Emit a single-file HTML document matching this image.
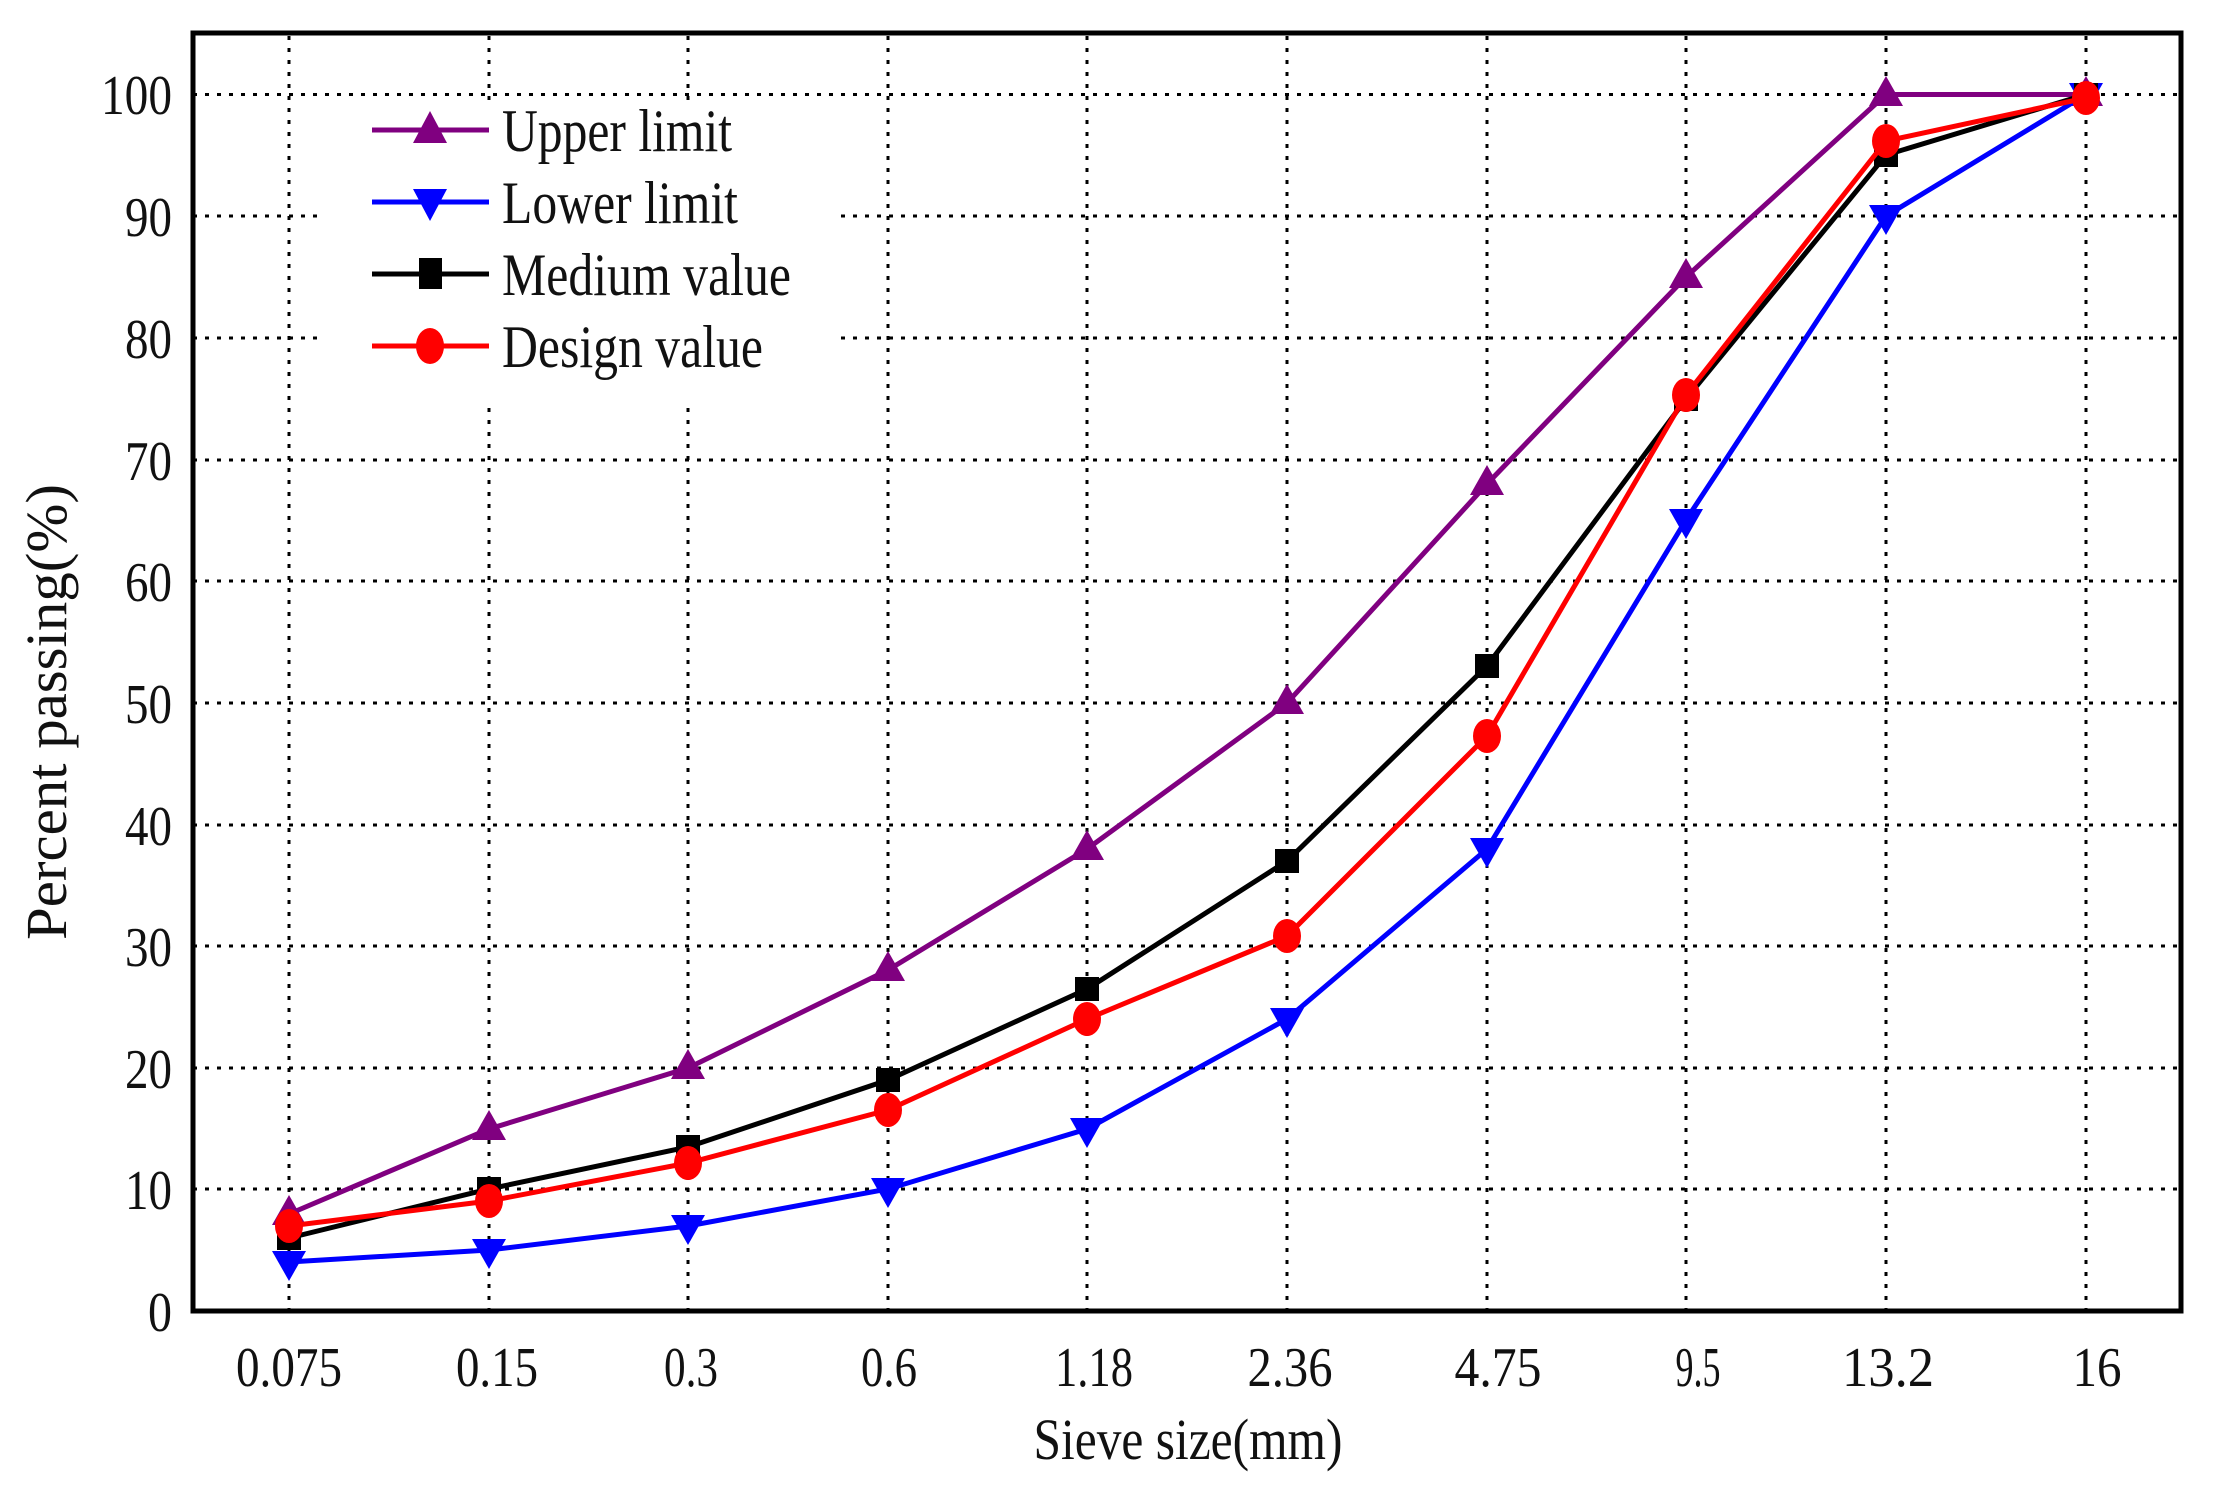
<!DOCTYPE html>
<html><head><meta charset="utf-8"><style>
body{margin:0;background:#fff}
svg text{font-family:"Liberation Serif",serif;fill:#111}
</style></head><body>
<svg width="2213" height="1488" viewBox="0 0 2213 1488" xmlns="http://www.w3.org/2000/svg">
<rect width="2213" height="1488" fill="#fff"/>
<g id="grid" stroke="#000" stroke-width="3" stroke-dasharray="4,8">
<line x1="289" y1="36" x2="289" y2="1311"/><line x1="489" y1="36" x2="489" y2="1311"/><line x1="688" y1="36" x2="688" y2="1311"/><line x1="888" y1="36" x2="888" y2="1311"/><line x1="1087" y1="36" x2="1087" y2="1311"/><line x1="1287" y1="36" x2="1287" y2="1311"/><line x1="1487" y1="36" x2="1487" y2="1311"/><line x1="1686" y1="36" x2="1686" y2="1311"/><line x1="1886" y1="36" x2="1886" y2="1311"/><line x1="2086" y1="36" x2="2086" y2="1311"/>
<line x1="193" y1="94.5" x2="2180" y2="94.5"/><line x1="193" y1="216" x2="2180" y2="216"/><line x1="193" y1="338" x2="2180" y2="338"/><line x1="193" y1="460" x2="2180" y2="460"/><line x1="193" y1="581" x2="2180" y2="581"/><line x1="193" y1="703" x2="2180" y2="703"/><line x1="193" y1="825" x2="2180" y2="825"/><line x1="193" y1="946" x2="2180" y2="946"/><line x1="193" y1="1068" x2="2180" y2="1068"/><line x1="193" y1="1189" x2="2180" y2="1189"/>
</g>
<rect x="322" y="100" width="516" height="300" fill="#fff"/>
<rect x="193" y="33" width="1988" height="1278" fill="none" stroke="#000" stroke-width="5"/>
<g font-size="56" text-anchor="end" lengthAdjust="spacingAndGlyphs">
<text x="172" y="114" textLength="71" lengthAdjust="spacingAndGlyphs">100</text><text x="172" y="236" textLength="47" lengthAdjust="spacingAndGlyphs">90</text><text x="172" y="358" textLength="47" lengthAdjust="spacingAndGlyphs">80</text><text x="172" y="480" textLength="47" lengthAdjust="spacingAndGlyphs">70</text><text x="172" y="601" textLength="47" lengthAdjust="spacingAndGlyphs">60</text><text x="172" y="723" textLength="47" lengthAdjust="spacingAndGlyphs">50</text><text x="172" y="845" textLength="47" lengthAdjust="spacingAndGlyphs">40</text><text x="172" y="966" textLength="47" lengthAdjust="spacingAndGlyphs">30</text><text x="172" y="1088" textLength="47" lengthAdjust="spacingAndGlyphs">20</text><text x="172" y="1209" textLength="47" lengthAdjust="spacingAndGlyphs">10</text><text x="172" y="1331" textLength="24" lengthAdjust="spacingAndGlyphs">0</text>
</g>
<g font-size="56" text-anchor="middle">
<text x="289" y="1386" textLength="106" lengthAdjust="spacingAndGlyphs">0.075</text><text x="497" y="1386" textLength="82" lengthAdjust="spacingAndGlyphs">0.15</text><text x="691" y="1386" textLength="54" lengthAdjust="spacingAndGlyphs">0.3</text><text x="889" y="1386" textLength="56" lengthAdjust="spacingAndGlyphs">0.6</text><text x="1094" y="1386" textLength="78" lengthAdjust="spacingAndGlyphs">1.18</text><text x="1290" y="1386" textLength="85" lengthAdjust="spacingAndGlyphs">2.36</text><text x="1498" y="1386" textLength="87" lengthAdjust="spacingAndGlyphs">4.75</text><text x="1698" y="1386" textLength="45" lengthAdjust="spacingAndGlyphs">9.5</text><text x="1888" y="1386" textLength="92" lengthAdjust="spacingAndGlyphs">13.2</text><text x="2097" y="1386" textLength="49" lengthAdjust="spacingAndGlyphs">16</text>
<text x="1188" y="1459" font-size="58" textLength="309" lengthAdjust="spacingAndGlyphs">Sieve size(mm)</text>
<text transform="translate(66,712) rotate(-90)" font-size="58" textLength="456" lengthAdjust="spacingAndGlyphs">Percent passing(%)</text>
</g>
<!-- Upper -->
<polyline fill="none" stroke="#800080" stroke-width="5" points="289,1214 489,1129 688,1068 888,970 1087,849 1287,703 1487,484 1686,277 1886,94.5 2086,94.5"/>
<g fill="#800080">
<polygon points="289,1195 272,1225 306,1225"/><polygon points="489,1110 472,1140 506,1140"/><polygon points="688,1049 671,1079 705,1079"/><polygon points="888,951 871,981 905,981"/><polygon points="1087,830 1070,860 1104,860"/><polygon points="1287,684 1270,714 1304,714"/><polygon points="1487,465 1470,495 1504,495"/><polygon points="1686,258 1669,288 1703,288"/><polygon points="1886,76 1869,106 1903,106"/><polygon points="2086,76 2069,106 2103,106"/>
</g>
<!-- Lower -->
<polyline fill="none" stroke="#0000ff" stroke-width="5" points="289,1262 489,1250 688,1226 888,1189 1087,1129 1287,1019 1487,849 1686,520 1886,216 2086,94.5"/>
<g fill="#0000ff">
<polygon points="289,1281 272,1251 306,1251"/><polygon points="489,1269 472,1239 506,1239"/><polygon points="688,1245 671,1215 705,1215"/><polygon points="888,1208 871,1178 905,1178"/><polygon points="1087,1148 1070,1118 1104,1118"/><polygon points="1287,1038 1270,1008 1304,1008"/><polygon points="1487,868 1470,838 1504,838"/><polygon points="1686,539 1669,509 1703,509"/><polygon points="1886,235 1869,205 1903,205"/><polygon points="2086,113 2069,83 2103,83"/>
</g>
<!-- Medium -->
<polyline fill="none" stroke="#000" stroke-width="5" points="289,1238 489,1189 688,1147 888,1080 1087,989 1287,861 1487,666 1686,399 1886,155 2086,94.5"/>
<g fill="#000">
<rect x="277" y="1226" width="24" height="24"/><rect x="477" y="1177" width="24" height="24"/><rect x="676" y="1135" width="24" height="24"/><rect x="876" y="1068" width="24" height="24"/><rect x="1075" y="977" width="24" height="24"/><rect x="1275" y="849" width="24" height="24"/><rect x="1475" y="654" width="24" height="24"/><rect x="1674" y="387" width="24" height="24"/><rect x="1874" y="143" width="24" height="24"/><rect x="2074" y="83" width="24" height="24"/>
</g>
<!-- Design -->
<polyline fill="none" stroke="#ff0000" stroke-width="5" points="289,1226 489,1201 688,1163 888,1110 1087,1019 1287,936 1487,736 1686,395 1886,141 2086,98"/>
<g fill="#ff0000">
<ellipse cx="289" cy="1226" rx="14" ry="17"/><ellipse cx="489" cy="1201" rx="14" ry="17"/><ellipse cx="688" cy="1163" rx="14" ry="17"/><ellipse cx="888" cy="1110" rx="14" ry="17"/><ellipse cx="1087" cy="1019" rx="14" ry="17"/><ellipse cx="1287" cy="936" rx="14" ry="17"/><ellipse cx="1487" cy="736" rx="14" ry="17"/><ellipse cx="1686" cy="395" rx="14" ry="17"/><ellipse cx="1886" cy="141" rx="14" ry="17"/><ellipse cx="2086" cy="98" rx="14" ry="17"/>
</g>
<!-- Legend -->
<line x1="372" y1="130" x2="489" y2="130" stroke="#800080" stroke-width="5"/><polygon points="430,111 413,143 447,143" fill="#800080"/>
<line x1="372" y1="202" x2="489" y2="202" stroke="#0000ff" stroke-width="5"/><polygon points="430,221 413,189 447,189" fill="#0000ff"/>
<line x1="372" y1="274" x2="489" y2="274" stroke="#000" stroke-width="5"/><rect x="419" y="258" width="23" height="31" fill="#000"/>
<line x1="372" y1="346" x2="489" y2="346" stroke="#ff0000" stroke-width="5"/><ellipse cx="430" cy="346" rx="14" ry="18" fill="#ff0000"/>
<g font-size="60">
<text x="502" y="151" textLength="230" lengthAdjust="spacingAndGlyphs">Upper limit</text><text x="502" y="223" textLength="236" lengthAdjust="spacingAndGlyphs">Lower limit</text><text x="502" y="295" textLength="289" lengthAdjust="spacingAndGlyphs">Medium value</text><text x="502" y="367" textLength="261" lengthAdjust="spacingAndGlyphs">Design value</text>
</g>
</svg>
</body></html>
